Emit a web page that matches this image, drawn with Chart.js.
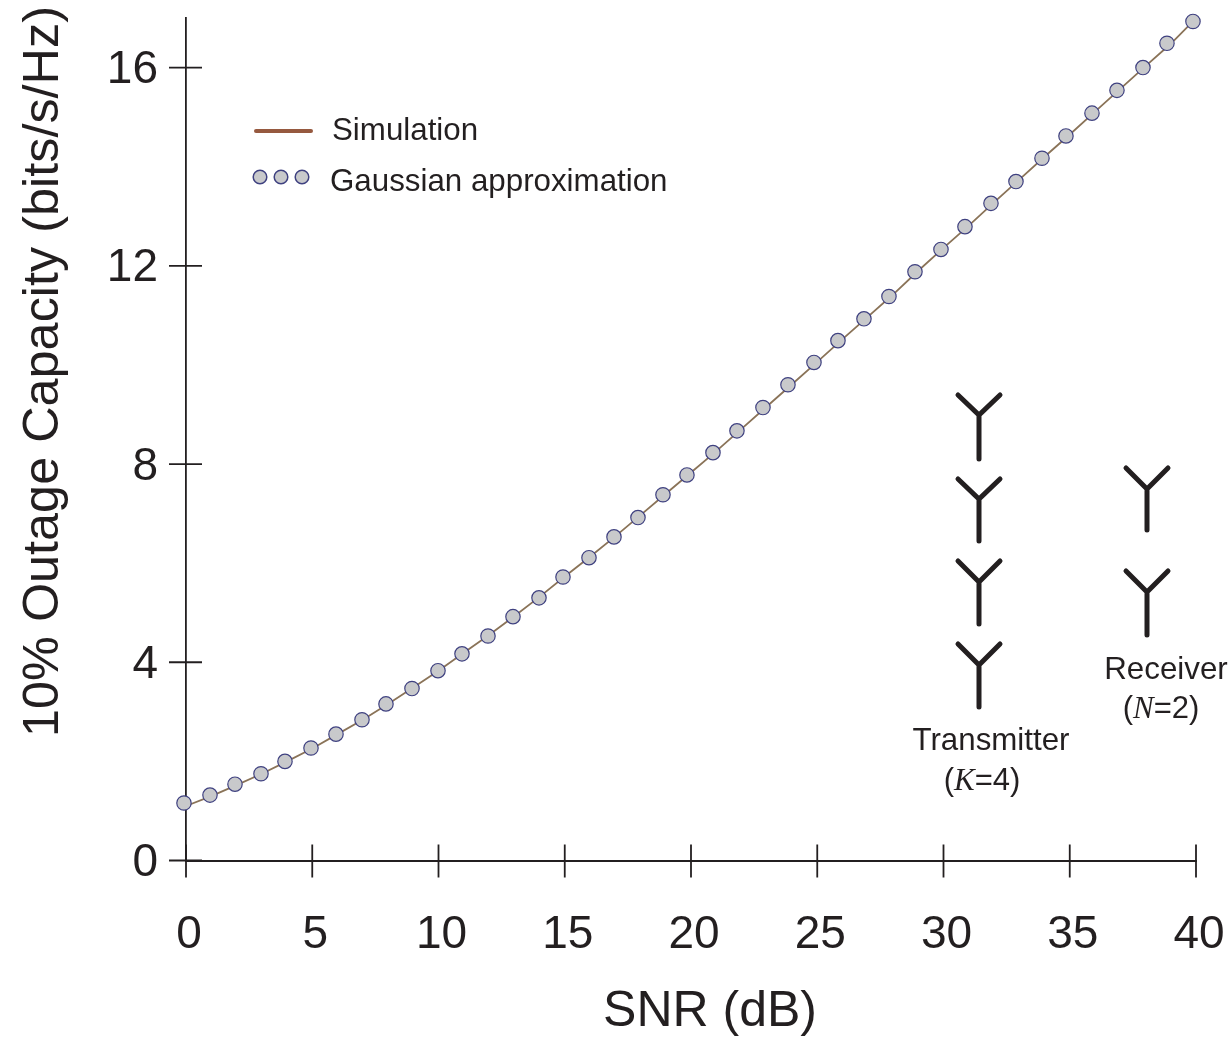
<!DOCTYPE html>
<html>
<head>
<meta charset="utf-8">
<style>
  html, body { margin: 0; padding: 0; background: #fff; }
  #wrap { width: 1232px; height: 1037px; }
</style>
</head>
<body>
<div id="wrap"><canvas id="myChart" width="1232" height="1037"></canvas></div>
<script src="https://cdn.jsdelivr.net/npm/chart.js@4/dist/chart.umd.min.js"></script>
<script>
const snr = [-0.08, 0.95, 1.94, 2.97, 3.92, 4.95, 5.94, 6.97, 7.92, 8.95, 9.98, 10.93, 11.96, 12.95, 13.98, 14.93,
    15.96, 16.95, 17.9, 18.89, 19.84, 20.87, 21.82, 22.85, 23.84, 24.87, 25.82, 26.85, 27.84, 28.87, 29.9,
    30.85, 31.88, 32.87, 33.9, 34.85, 35.88, 36.87, 37.9, 38.85, 39.88];
const gaussian = [1.16, 1.32, 1.54, 1.75, 2.0, 2.27, 2.55, 2.84, 3.16, 3.47, 3.83, 4.17, 4.53, 4.92, 5.3, 5.72,
    6.11, 6.53, 6.92, 7.38, 7.78, 8.23, 8.67, 9.14, 9.6, 10.05, 10.49, 10.93, 11.38, 11.88, 12.33,
    12.79, 13.26, 13.7, 14.17, 14.62, 15.08, 15.54, 16.0, 16.49, 16.93];
const simSnr = [0, 1, 2, 3, 4, 5, 6, 7, 8, 9, 10, 11, 12, 13, 14, 15, 16, 17, 18, 19, 20, 21, 22, 23, 24, 25, 26,
    27, 28, 29, 30, 31, 32, 33, 34, 35, 36, 37, 38, 39, 39.88];
const simulation = [1.1, 1.3, 1.52, 1.75, 2.0, 2.26, 2.55, 2.84, 3.16, 3.49, 3.83, 4.19, 4.55, 4.93, 5.32, 5.73,
    6.13, 6.54, 6.97, 7.4, 7.83, 8.26, 8.71, 9.16, 9.61, 10.06, 10.52, 10.97, 11.42, 11.9, 12.36,
    12.81, 13.28, 13.74, 14.2, 14.65, 15.11, 15.57, 16.03, 16.48, 16.93];
const xTicks = [0, 5, 10, 15, 20, 25, 30, 35, 40];
const yTicks = [0, 4, 8, 12, 16];

const ink = "#231f20";
const sans = "'Liberation Sans', Arial, sans-serif";
const markerFill = "#c8c9cb";
const markerEdge = "#3f4180";

function toPoints(xs, ys) {
    return xs.map(function (x, i) { return { x: x, y: ys[i] }; });
}

function segment(c, x1, y1, x2, y2) {
    c.beginPath();
    c.moveTo(x1, y1);
    c.lineTo(x2, y2);
    c.stroke();
}

// one antenna: top of the arms, joint, end of the stem
function antenna(c, x, top, joint, bottom) {
    c.beginPath();
    c.moveTo(x - 21, top);
    c.lineTo(x, joint);
    c.lineTo(x + 21, top);
    c.moveTo(x, joint);
    c.lineTo(x, bottom);
    c.stroke();
}

// "(K=4)" style label, the letter is serif italic
function mixedLabel(c, center, baseline, before, letter, after) {
    const plain = "31px " + sans;
    const italic = "italic 31px 'Liberation Serif', serif";
    c.font = plain;
    const w1 = c.measureText(before).width;
    const w3 = c.measureText(after).width;
    c.font = italic;
    const w2 = c.measureText(letter).width;
    let x = center - (w1 + w2 + w3) / 2;
    c.textAlign = "left";
    c.font = plain;
    c.fillText(before, x, baseline);
    c.font = italic;
    c.fillText(letter, x + w1, baseline);
    c.font = plain;
    c.fillText(after, x + w1 + w2, baseline);
}

// tick labels may hang over the plot edge, so the scales reserve no room for them
function noMargins(axis) {
    axis.paddingLeft = 0;
    axis.paddingRight = 0;
    axis.paddingTop = 0;
    axis.paddingBottom = 0;
}

const extras = {
    id: "extras",
    // ticks cross the axes, so they are drawn here instead of by the grid
    beforeDatasetsDraw(chart) {
        const c = chart.ctx;
        const sx = chart.scales.x;
        const sy = chart.scales.y;
        c.save();
        c.strokeStyle = ink;
        c.lineWidth = 1.8;
        xTicks.forEach(function (v) {
            const px = sx.getPixelForValue(v);
            segment(c, px, sy.bottom - 16, px, sy.bottom + 17);
        });
        yTicks.forEach(function (v) {
            const py = sy.getPixelForValue(v);
            segment(c, sx.left - 17, py, sx.left + 16, py);
        });
        c.restore();
    },
    afterDraw(chart) {
        const c = chart.ctx;
        c.save();
        c.fillStyle = ink;
        c.textBaseline = "alphabetic";

        // axis titles
        c.font = "50px " + sans;
        c.textAlign = "center";
        c.fillText("SNR (dB)", 710, 1026);
        c.save();
        c.translate(58, 371.5);
        c.rotate(-Math.PI / 2);
        c.font = "50.4px " + sans;
        c.fillText("10% Outage Capacity (bits/s/Hz)", 0, 0);
        c.restore();

        // legend
        c.strokeStyle = "#96593f";
        c.lineWidth = 4;
        c.lineCap = "round";
        segment(c, 256, 131, 311, 131);
        [260, 281, 302].forEach(function (x) {
            c.beginPath();
            c.arc(x, 177, 6.8, 0, Math.PI * 2);
            c.fillStyle = markerFill;
            c.fill();
            c.strokeStyle = markerEdge;
            c.lineWidth = 1.5;
            c.stroke();
        });
        c.fillStyle = ink;
        c.textAlign = "left";
        c.font = "31.3px " + sans;
        c.fillText("Simulation", 332, 140);
        c.fillText("Gaussian approximation", 330, 191);

        // antennas
        c.strokeStyle = ink;
        c.lineWidth = 5;
        c.lineCap = "round";
        c.lineJoin = "miter";
        antenna(c, 979, 395, 415, 459);
        antenna(c, 979, 479, 499, 541);
        antenna(c, 979, 561, 582, 624);
        antenna(c, 979, 644, 665, 707);
        antenna(c, 1147, 468, 489, 530);
        antenna(c, 1147, 571, 592, 635);

        c.font = "31.3px " + sans;
        c.textAlign = "center";
        c.fillText("Transmitter", 991, 750);
        c.fillText("Receiver", 1166, 679);
        mixedLabel(c, 982, 790, "(", "K", "=4)");
        mixedLabel(c, 1161, 718, "(", "N", "=2)");
        c.restore();
    }
};

new Chart(document.getElementById("myChart"), {
    type: "scatter",
    data: {
        datasets: [{
            label: "Gaussian approximation",
            data: toPoints(snr, gaussian),
            showLine: false,
            pointRadius: 7.2,
            pointBackgroundColor: markerFill,
            pointBorderColor: markerEdge,
            pointBorderWidth: 1.2,
            clip: false,
            order: 1
        }, {
            label: "Simulation",
            data: toPoints(simSnr, simulation),
            showLine: true,
            borderColor: "#8a7358",
            borderWidth: 1.8,
            pointRadius: 0,
            clip: false,
            order: 2
        }]
    },
    plugins: [extras],
    options: {
        responsive: false,
        animation: false,
        layout: { padding: { top: 18, right: 36, left: 0, bottom: 0 } },
        plugins: {
            legend: { display: false },
            tooltip: { enabled: false }
        },
        scales: {
            x: {
                type: "linear",
                min: 0,
                max: 40,
                afterBuildTicks: function (axis) {
                    axis.ticks = xTicks.map(function (v) { return { value: v }; });
                },
                afterFit: function (axis) {
                    axis.height = 176.5;
                    noMargins(axis);
                },
                grid: { drawOnChartArea: false, drawTicks: false },
                border: { color: ink, width: 2 },
                ticks: {
                    color: ink,
                    padding: 47,
                    labelOffset: 3,
                    maxRotation: 0,
                    font: { family: sans, size: 46 }
                }
            },
            y: {
                type: "linear",
                min: 0,
                max: 17,
                afterBuildTicks: function (axis) {
                    axis.ticks = yTicks.map(function (v) { return { value: v }; });
                },
                afterFit: function (axis) {
                    axis.width = 186;
                    noMargins(axis);
                },
                grid: { drawOnChartArea: false, drawTicks: false },
                border: { color: ink, width: 1.8 },
                ticks: {
                    color: ink,
                    padding: 28,
                    labelOffset: 3,
                    font: { family: sans, size: 46 }
                }
            }
        }
    }
});
</script>
</body>
</html>
